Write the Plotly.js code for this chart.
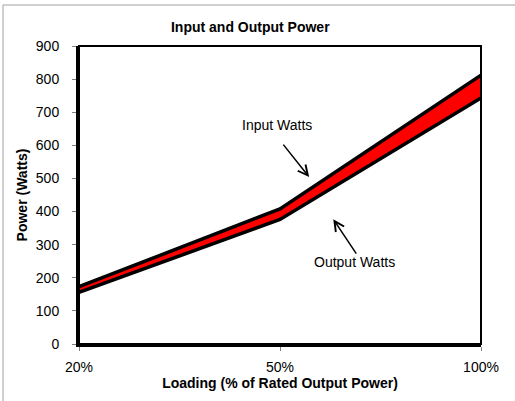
<!DOCTYPE html>
<html>
<head>
<meta charset="utf-8">
<script src="https://cdn.plot.ly/plotly-3.0.1.min.js"></script>
<style>html,body{margin:0;padding:0;background:#fff;}#chart{width:515px;height:401px;}</style>
</head>
<body>
<div id="chart"></div>
<script>
var categories = ["20%", "50%", "100%"];
var inputWatts = [173, 408, 812];
var outputWatts = [156, 376, 743];
var yTicks = [0, 100, 200, 300, 400, 500, 600, 700, 800, 900];

var FONT = "Liberation Sans, Arial, sans-serif";

var traces = [
  {
    x: categories, y: outputWatts, name: "Output Watts", type: "scatter", mode: "lines",
    line: {color: "#000000", width: 3.5}, showlegend: false, hoverinfo: "x+y+name"
  },
  {
    x: categories, y: inputWatts, name: "Input Watts", type: "scatter", mode: "lines",
    fill: "tonexty", fillcolor: "#ff0000",
    line: {color: "#000000", width: 3.5}, showlegend: false, hoverinfo: "x+y+name"
  }
];

var layout = {
  width: 515, height: 401,
  margin: {l: 79, r: 34, t: 46, b: 57},
  paper_bgcolor: "#ffffff", plot_bgcolor: "#ffffff",
  font: {family: FONT, size: 14, color: "#000000"},
  title: {
    text: "<b>Input and Output Power</b>",
    font: {family: FONT, size: 14, color: "#000000"},
    xref: "container", x: 0.486, xanchor: "center",
    yref: "container", y: 0.933, yanchor: "middle"
  },
  xaxis: {
    type: "category", range: [0, 2],
    showgrid: false, zeroline: false,
    showline: true, linecolor: "#000000", linewidth: 3,
    ticks: "outside", ticklen: 4, tickcolor: "#808080", tickwidth: 1,
    ticklabelstandoff: 4,
    tickfont: {family: FONT, size: 14, color: "#000000"},
    title: {text: "<b>Loading (% of Rated Output Power)</b>", font: {family: FONT, size: 14, color: "#000000"}, standoff: 0}
  },
  yaxis: {
    range: [0, 900], tickvals: yTicks, ticktext: yTicks.map(String),
    showgrid: false, zeroline: false,
    showline: true, linecolor: "#000000", linewidth: 3,
    ticks: "outside", ticklen: 4, tickcolor: "#808080", tickwidth: 1,
    ticklabelstandoff: 10,
    tickfont: {family: FONT, size: 14, color: "#000000"},
    title: {text: "<b>Power (Watts)</b>", font: {family: FONT, size: 14, color: "#000000"}, standoff: 5}
  },
  shapes: [
    {type: "rect", xref: "paper", yref: "paper", x0: 0, x1: 1, y0: 0, y1: 1,
     line: {color: "#000000", width: 2}, fillcolor: "rgba(0,0,0,0)", layer: "above"},
    {type: "rect", xref: "paper", yref: "paper", x0: -0.189, x1: 1.3, y0: -0.4, y1: 1.1376,
     line: {color: "#a0a0a0", width: 1}, fillcolor: "rgba(0,0,0,0)", layer: "below"}
  ],
  annotations: [
    {x: 0.986, y: 661, xref: "x", yref: "y", text: "Input Watts", showarrow: false,
     font: {family: FONT, size: 14, color: "#000000"}},
    {x: 1.145, y: 504, xref: "x", yref: "y", text: "", showarrow: true,
     ax: -27, ay: -34, arrowhead: 5, arrowsize: 1.3, arrowwidth: 1.5, arrowcolor: "#000000", standoff: 0},
    {x: 1.372, y: 248, xref: "x", yref: "y", text: "Output Watts", showarrow: false,
     font: {family: FONT, size: 14, color: "#000000"}},
    {x: 1.265, y: 377, xref: "x", yref: "y", text: "", showarrow: true,
     ax: 24, ay: 36, arrowhead: 5, arrowsize: 1.3, arrowwidth: 1.5, arrowcolor: "#000000", standoff: 0}
  ]
};

Plotly.newPlot("chart", traces, layout, {displayModeBar: false, staticPlot: true});
</script>
</body>
</html>
